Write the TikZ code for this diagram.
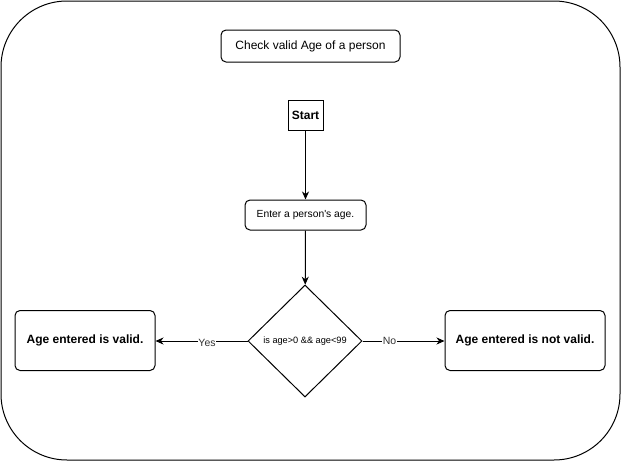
\documentclass[tikz,border=0pt]{standalone}
\usepackage{fontspec}
\setmainfont{Liberation Sans}
\usetikzlibrary{shapes.geometric,arrows.meta}
\begin{document}
\begin{tikzpicture}[x=1pt,y=-1pt,line width=1pt,
  box/.style={draw=black,rounded corners=5pt,inner sep=0pt,align=center},
  plainbox/.style={draw=black,inner sep=0pt,align=center},
  dec/.style={draw=black,shape=diamond,inner sep=0pt,align=center},
  arr/.style={-{Stealth[length=8pt,width=7pt,inset=2.5pt]}},
  lbl/.style={fill=white,inner sep=0.5pt,font=\fontsize{10.5}{12}\selectfont,text=black!80}]
\useasboundingbox (0,0) rectangle (622,461);
\draw[rounded corners=66pt] (1,1) rectangle (620,460);
\node[box,minimum width=179pt,minimum height=32pt,font=\fontsize{12}{14}\selectfont] (title) at (310.5,46) {Check valid Age of a person};
\node[plainbox,minimum width=35pt,minimum height=30pt,font=\bfseries\fontsize{12}{14}\selectfont] (start) at (305.5,115) {Start};
\node[box,minimum width=121pt,minimum height=30pt,font=\fontsize{10.3}{12}\selectfont] (enter) at (305.5,215) {Enter a person\textquotesingle s age.};
\node[dec,minimum width=114pt,minimum height=112pt,font=\fontsize{9.2}{11}\selectfont] (dec) at (305,341) {is age>0 \&\& age<99};
\node[box,minimum width=140pt,minimum height=60pt,font=\bfseries\fontsize{12}{14}\selectfont] (valid) at (85,340.5) {Age entered is valid.};
\node[box,minimum width=160pt,minimum height=60pt,font=\bfseries\fontsize{12}{14}\selectfont] (invalid) at (525,340.5) {Age entered is not valid.};
\draw[arr] (start) -- (enter);
\draw[arr] (enter) -- (dec);
\draw[arr] (dec.west) -- node[lbl,pos=0.44,yshift=-2pt]{Yes} (valid.east |- dec.west);
\draw[arr] (dec.east) -- node[lbl,pos=0.33,yshift=0pt]{No} (invalid.west |- dec.east);
\end{tikzpicture}
\end{document}
